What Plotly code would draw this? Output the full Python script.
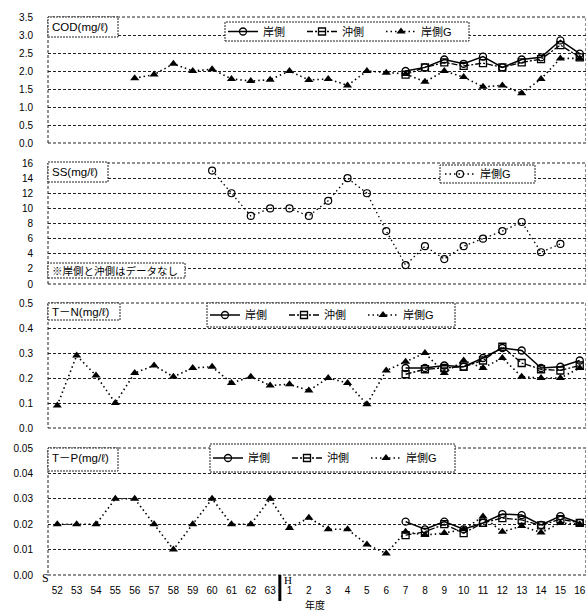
import plotly.graph_objects as go
from plotly.subplots import make_subplots

N = None
# x categories: S52..S63, H1..H16
year_labels = ["52","53","54","55","56","57","58","59","60","61","62","63",
               "1","2","3","4","5","6","7","8","9","10","11","12","13","14","15","16"]
x_idx = list(range(len(year_labels)))

# COD (mg/l)
cod_kishi  = [N]*18 + [2.0, 2.1, 2.32, 2.2, 2.4, 2.1, 2.32, 2.38, 2.85, 2.48]
cod_oki    = [N]*18 + [1.9, 2.1, 2.24, 2.14, 2.22, 2.1, 2.24, 2.33, 2.72, 2.38]
cod_kishiG = [N, N, N, N, 1.8, 1.9, 2.2, 2.0, 2.05, 1.78, 1.72, 1.76,
              2.0, 1.75, 1.78, 1.6, 2.0, 1.95, 1.92, 1.7, 2.0, 1.83, 1.56, 1.6, 1.38, 1.78, 2.35, 2.35]

# SS (mg/l)
ss_kishiG = [N]*8 + [15, 12, 9, 10, 10, 9, 11, 14, 12, 7, 2.5, 5, 3.3, 5, 6, 7, 8.2, 4.2, 5.3, N]

# T-N (mg/l)
tn_kishi  = [N]*18 + [0.24, 0.24, 0.25, 0.245, 0.28, 0.32, 0.31, 0.24, 0.245, 0.27]
tn_oki    = [N]*18 + [0.215, 0.235, 0.24, 0.245, 0.27, 0.325, 0.26, 0.235, 0.23, 0.25]
tn_kishiG = [0.09, 0.29, 0.21, 0.1, 0.22, 0.25, 0.205, 0.24, 0.245, 0.18, 0.205, 0.17,
             0.175, 0.15, 0.2, 0.18, 0.095, 0.23, 0.265, 0.3, 0.22, 0.27, 0.24, 0.28, 0.205, 0.2, 0.2, 0.24]

# T-P (mg/l)
tp_kishi  = [N]*18 + [0.021, 0.018, 0.021, 0.018, 0.0205, 0.024, 0.0236, 0.0197, 0.0232, 0.0205]
tp_oki    = [N]*18 + [0.0157, 0.017, 0.02, 0.0165, 0.0205, 0.0224, 0.0217, 0.0195, 0.022, 0.0205]
tp_kishiG = [0.02, 0.02, 0.02, 0.03, 0.03, 0.02, 0.01, 0.02, 0.03, 0.02, 0.02, 0.03,
             0.0185, 0.0225, 0.018, 0.018, 0.012, 0.0085, 0.017, 0.0157, 0.0165, 0.018, 0.023, 0.017, 0.0193, 0.0167, 0.0205, 0.02]

FONT = "Liberation Sans, Noto Sans CJK JP, sans-serif"
W, H = 586, 613
ML, MR, MT, MB = 48, 0, 17, 38
PW, PH = W - ML - MR, H - MT - MB

# convert window pixel coordinates to paper fractions
def px(xp):
    return (xp - ML) / PW

def py(yp):
    return (H - MB - yp) / PH

fig = make_subplots(rows=4, cols=1)
DOT = "1.5px,3px"

def add_kishi(vals, row, legend):
    fig.add_trace(go.Scatter(x=x_idx, y=vals, name="岸側", mode="lines+markers",
                             line=dict(color="black", width=1.5),
                             marker=dict(symbol="circle-open", size=7, color="black", line=dict(width=1.3)),
                             legend=legend), row=row, col=1)

def add_oki(vals, row, legend):
    fig.add_trace(go.Scatter(x=x_idx, y=vals, name="沖側", mode="lines+markers",
                             line=dict(color="black", width=1.3, dash="6px,2px,2px,2px"),
                             marker=dict(symbol="square-open", size=7, color="black", line=dict(width=1.3)),
                             legend=legend), row=row, col=1)

def add_G(vals, row, legend):
    fig.add_trace(go.Scatter(x=x_idx, y=vals, name="岸側G", mode="lines+markers",
                             line=dict(color="black", width=1.6, dash=DOT),
                             marker=dict(symbol="triangle-up", size=8, color="black"),
                             legend=legend), row=row, col=1)

add_kishi(cod_kishi, 1, "legend")
add_oki(cod_oki, 1, "legend")
add_G(cod_kishiG, 1, "legend")

fig.add_trace(go.Scatter(x=x_idx, y=ss_kishiG, name="岸側G", mode="lines+markers",
                         line=dict(color="black", width=1.3, dash=DOT),
                         marker=dict(symbol="circle-open", size=7, color="black", line=dict(width=1.2)),
                         legend="legend2"), row=2, col=1)

add_kishi(tn_kishi, 3, "legend3")
add_oki(tn_oki, 3, "legend3")
add_G(tn_kishiG, 3, "legend3")

add_kishi(tp_kishi, 4, "legend4")
add_oki(tp_oki, 4, "legend4")
add_G(tp_kishiG, 4, "legend4")

# panel pixel extents (top, bottom)
panels = [(17, 143), (163, 284), (303, 428), (448, 575)]
yranges = [(0, 3.5, 0.5, ".1f"), (0, 16, 2, "d"), (0, 0.5, 0.1, ".1f"), (0, 0.05, 0.01, ".2f")]

STEP = 19.35
x0 = -(57.3 - 48) / STEP
xrange = [x0, x0 + PW / STEP]

for r in range(4):
    top, bot = panels[r]
    lo, hi, dt, fmt = yranges[r]
    fig.update_yaxes(row=r + 1, col=1, domain=[py(bot), py(top)], range=[lo, hi], dtick=dt,
                     tickformat=fmt, showgrid=True, gridcolor="#222", griddash="3px,2px", gridwidth=1,
                     zeroline=False, showline=False, ticks="", ticklabelstandoff=14, automargin=False,
                     tickfont=dict(family=FONT, size=10, color="black"))
    fig.update_xaxes(row=r + 1, col=1, range=xrange, showgrid=False, zeroline=False, showline=False,
                     ticks="", showticklabels=(r == 3), tickvals=x_idx, ticktext=year_labels,
                     ticklabeloverflow="allow",
                     ticklabelstandoff=8, automargin=False, tickfont=dict(family=FONT, size=10, color="black"))

shapes = []
annotations = []
for r in range(4):
    xs = "x" if r == 0 else f"x{r+1}"
    ys = "y" if r == 0 else f"y{r+1}"
    shapes.append(dict(type="rect", xref=f"{xs} domain", yref=f"{ys} domain", x0=0, x1=1, y0=0, y1=1,
                       line=dict(color="#222", width=1, dash="3px,2px"), layer="below"))

def box(x0, y0, x1, y1):
    shapes.append(dict(type="rect", xref="paper", yref="paper", x0=px(x0), x1=px(x1), y0=py(y1), y1=py(y0),
                       line=dict(color="#222", width=1, dash="2px,1px"), fillcolor="white", layer="above"))

def label(text, xp, yp, size=11.5):
    annotations.append(dict(text=text, xref="paper", yref="paper", x=px(xp), y=py(yp), xanchor="left",
                            yanchor="middle", showarrow=False, font=dict(family=FONT, size=size, color="black")))

# title boxes
box(48, 17, 118, 37); label("COD(mg/ℓ)", 50, 27)
box(48, 162, 108, 182); label("SS(mg/ℓ)", 50, 172)
box(48, 263, 185, 278); label("※岸側と沖側はデータなし", 50, 270.5, 10.5)
box(48, 303, 120, 320); label("T－N(mg/ℓ)", 50, 311.5)
box(48, 448, 118, 471); label("T－P(mg/ℓ)", 50, 458)

# legend boxes
box(225, 22, 469, 41)
box(440, 165, 535, 183)
box(207, 303, 455, 327)
box(210, 444, 455, 472)

# era marks and axis title
annotations.append(dict(text="S", xref="paper", yref="paper", x=px(45), y=py(578), showarrow=False,
                        xanchor="center", yanchor="middle", font=dict(family="Liberation Serif", size=12, color="black")))
annotations.append(dict(text="H", xref="paper", yref="paper", x=px(288), y=py(580), showarrow=False,
                        xanchor="center", yanchor="middle", font=dict(family="Liberation Serif", size=11, color="black")))
annotations.append(dict(text="年度", xref="paper", yref="paper", x=px(315), y=py(605), showarrow=False,
                        xanchor="center", yanchor="middle", font=dict(family=FONT, size=10, color="black")))
shapes.append(dict(type="line", xref="x4", yref="paper", x0=11.5, x1=11.5, y0=0, y1=py(601),
                   line=dict(color="black", width=3)))

def legend_cfg(xp, yp, ew):
    return dict(orientation="h", x=px(xp), y=py(yp), xanchor="left", yanchor="middle",
                bgcolor="rgba(0,0,0,0)", borderwidth=0, itemwidth=30, entrywidth=ew, entrywidthmode="pixels",
                font=dict(family=FONT, size=11, color="black"), itemclick=False, itemdoubleclick=False)

fig.update_layout(
    width=W, height=H,
    margin=dict(l=ML, r=MR, t=MT, b=MB, autoexpand=False),
    paper_bgcolor="white", plot_bgcolor="white",
    font=dict(family=FONT, size=10, color="black"),
    showlegend=True,
    legend=legend_cfg(223, 31.5, 34),
    legend2=legend_cfg(440, 174, 40),
    legend3=legend_cfg(205, 315, 34),
    legend4=legend_cfg(208, 458, 34),
    shapes=shapes,
    annotations=annotations,
)

fig.write_html("out.html",
               config={"displayModeBar": False},
               post_script="document.body.style.margin='0';document.body.style.overflow='hidden';")
